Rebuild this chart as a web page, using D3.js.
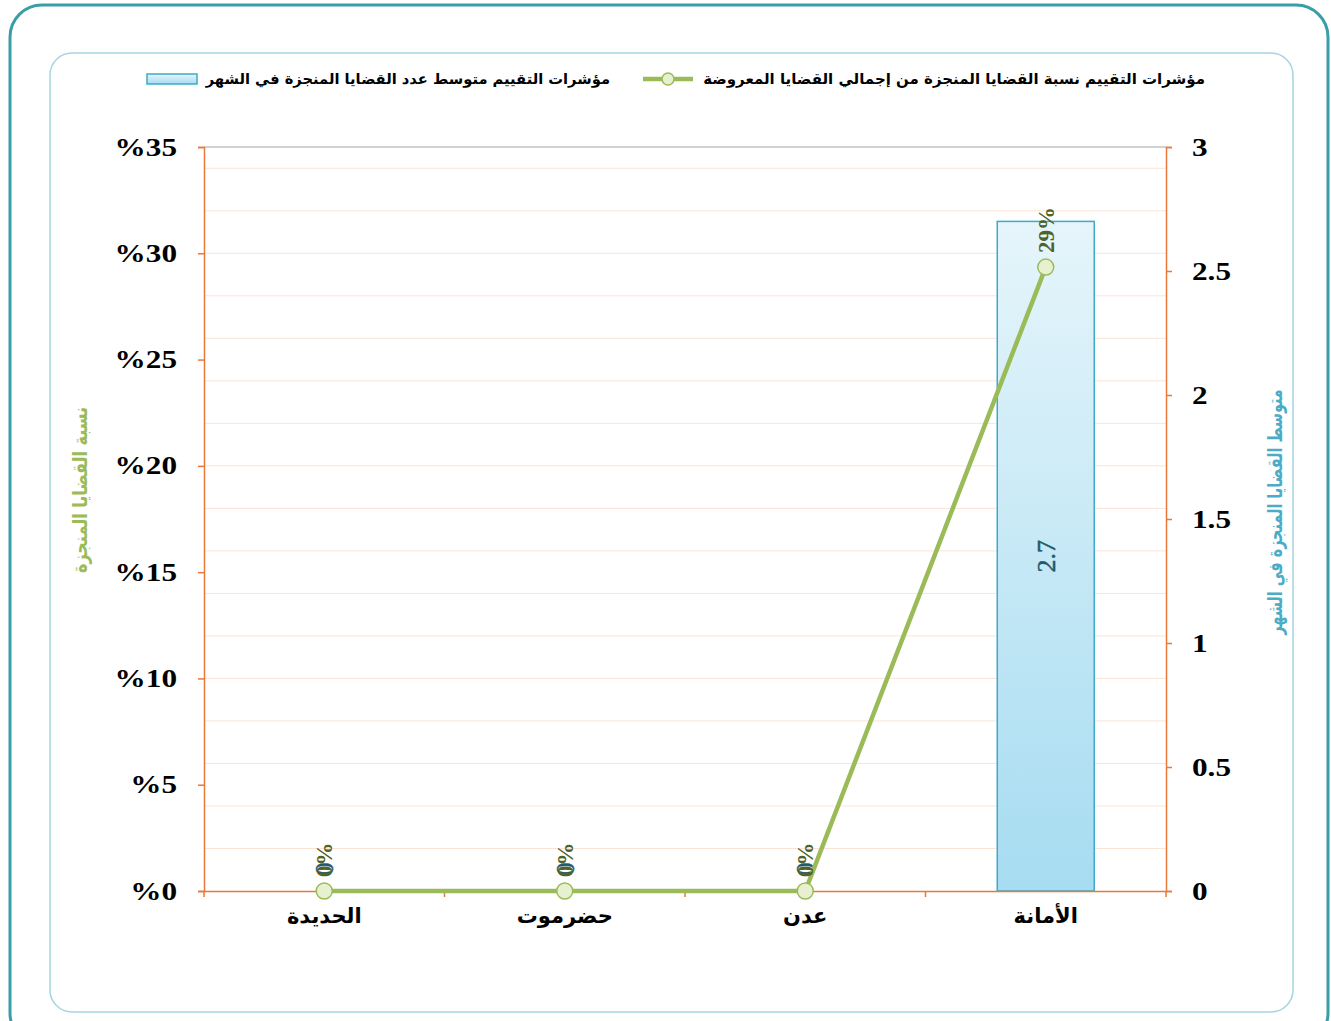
<!DOCTYPE html>
<html><head><meta charset="utf-8">
<script src="https://cdn.jsdelivr.net/npm/d3@7"></script>
<style>html,body{margin:0;padding:0;background:#fff;}</style>
</head><body>
<svg id="chart" width="1331" height="1021"></svg>
<script>
const categories = ["الحديدة", "حضرموت", "عدن", "الأمانة"];
const avgCases = [0, 0, 0, 2.7];
const ratioPct = [0, 0, 0, 29.35];
const ratioLabels = ["0%", "0%", "0%", "29%"];
const avgLabels = ["0", "0", "0", "2.7"];
const leftTicks = [0, 5, 10, 15, 20, 25, 30, 35];
const rightTicks = [0, 0.5, 1, 1.5, 2, 2.5, 3];
const gridVals = [2, 4, 6, 8, 10, 12, 14, 16, 18, 20, 22, 24, 26, 28, 30, 32, 34];
const legendLine = "مؤشرات التقييم نسبة القضايا المنجزة من إجمالي القضايا المعروضة";
const legendBar = "مؤشرات التقييم متوسط عدد القضايا المنجزة في الشهر";
const leftTitle = "نسبة القضايا المنجزة";
const rightTitle = "متوسط القضايا المنجزة في الشهر";

const svg = d3.select("#chart");
const arabic = "'DejaVu Sans', 'Noto Sans', sans-serif";
const serif = "'Liberation Serif', 'DejaVu Serif', serif";

// frames
svg.append("rect").attr("x", 10).attr("y", 5).attr("width", 1318).attr("height", 1040)
  .attr("rx", 32).attr("fill", "none").attr("stroke", "#3a9ea7").attr("stroke-width", 3);
svg.append("rect").attr("x", 50).attr("y", 53).attr("width", 1243).attr("height", 959)
  .attr("rx", 22).attr("fill", "none").attr("stroke", "#a6d5e1").attr("stroke-width", 1.5);

const L = 204, R = 1166, T = 147, B = 891;
const xc = d3.scaleBand().domain(categories).range([L, R]);
const yL = d3.scaleLinear().domain([0, 35]).range([B, T]);
const yR = d3.scaleLinear().domain([0, 3]).range([B, T]);

// gridlines
svg.append("g").selectAll("line").data(gridVals).join("line")
  .attr("x1", L).attr("x2", R).attr("y1", d => yL(d)).attr("y2", d => yL(d))
  .attr("stroke", "#fbe4d5").attr("stroke-width", 1);
svg.append("line").attr("x1", L).attr("x2", R).attr("y1", T).attr("y2", T)
  .attr("stroke", "#a6a6a6").attr("stroke-width", 1.2);

// gradient
const defs = svg.append("defs");
const g = defs.append("linearGradient").attr("id", "barGrad").attr("x1", 0).attr("y1", 0).attr("x2", 0).attr("y2", 1);
g.append("stop").attr("offset", "0%").attr("stop-color", "#e6f5fb");
g.append("stop").attr("offset", "100%").attr("stop-color", "#a6dcf1");

// bars
const bw = 97;
svg.append("g").selectAll("rect").data(avgCases).join("rect")
  .attr("x", (d, i) => xc(categories[i]) + xc.bandwidth() / 2 - bw / 2)
  .attr("width", bw)
  .attr("y", d => yR(d)).attr("height", d => B - yR(d))
  .attr("fill", "url(#barGrad)").attr("stroke", "#3eaac8").attr("stroke-width", 1.5);

const sx = 1.25;
// axes
const axL = svg.append("g").attr("transform", `translate(${L},0)`)
  .call(d3.axisLeft(yL).tickValues(leftTicks).tickSize(6).tickFormat(d => "%" + d));
axL.select(".domain").attr("stroke", "#e8793a").attr("stroke-width", 1.5);
axL.selectAll(".tick line").attr("stroke", "#e8793a").attr("stroke-width", 1.5);
axL.selectAll(".tick text").attr("x", -27 / sx).attr("transform", `scale(${sx},1)`)
  .attr("font-family", serif).attr("font-weight", "bold")
  .attr("font-size", 25).attr("fill", "#000");

const axR = svg.append("g").attr("transform", `translate(${R},0)`)
  .call(d3.axisRight(yR).tickValues(rightTicks).tickSize(6).tickFormat(d => String(d)));
axR.select(".domain").attr("stroke", "#e8793a").attr("stroke-width", 1.5);
axR.selectAll(".tick line").attr("stroke", "#e8793a").attr("stroke-width", 1.5);
axR.selectAll(".tick text").attr("x", 26 / sx).attr("transform", `scale(${sx},1)`)
  .attr("font-family", serif).attr("font-weight", "bold")
  .attr("font-size", 25).attr("fill", "#000");

const axB = svg.append("g").attr("transform", `translate(0,${B})`)
  .call(d3.axisBottom(xc).tickSize(0).tickFormat(d => d));
axB.select(".domain").attr("stroke", "#e8793a").attr("stroke-width", 1.5);
axB.selectAll(".tick text").attr("y", 17).attr("font-family", arabic).attr("font-weight", "bold")
  .attr("font-size", 21).attr("fill", "#000");
// category boundary ticks
svg.append("g").selectAll("line").data(categories).join("line")
  .attr("x1", d => xc(d)).attr("x2", d => xc(d)).attr("y1", B).attr("y2", B + 6)
  .attr("stroke", "#e8793a").attr("stroke-width", 1.5);
svg.append("line").attr("x1", R).attr("x2", R).attr("y1", B).attr("y2", B + 6)
  .attr("stroke", "#e8793a").attr("stroke-width", 1.5);

// bar labels
svg.append("g").selectAll("text").data(avgCases).join("text")
  .attr("transform", (d, i) => {
    const cx = xc(categories[i]) + xc.bandwidth() / 2;
    const cy = d > 0 ? (yR(d) + B) / 2 : B - 22;
    return `translate(${cx + 9},${cy}) rotate(-90)`;
  })
  .attr("text-anchor", "middle").attr("font-family", serif).attr("font-size", 26)
  .attr("stroke", "#1f5a6e").attr("stroke-width", 0.5)
  .attr("fill", "#1f5a6e").text((d, i) => avgLabels[i]);

// line
const pts = ratioPct.map((v, i) => [xc(categories[i]) + xc.bandwidth() / 2, yL(v)]);
svg.append("path").datum(pts).attr("d", d3.line()).attr("fill", "none")
  .attr("stroke", "#9bbb59").attr("stroke-width", 4.5);
svg.append("g").selectAll("circle").data(pts).join("circle")
  .attr("cx", d => d[0]).attr("cy", d => d[1]).attr("r", 8)
  .attr("fill", "#e8f1cf").attr("stroke", "#9bbb59").attr("stroke-width", 1.5);

// line labels
svg.append("g").selectAll("text").data(ratioPct).join("text")
  .attr("transform", (d, i) => `translate(${pts[i][0] + 8},${pts[i][1] - 14}) rotate(-90)`)
  .attr("text-anchor", "start").attr("font-family", serif).attr("font-weight", "bold").attr("font-size", 23)
  .attr("fill", "#4f6228").text((d, i) => ratioLabels[i]);

// axis titles
svg.append("text").attr("transform", "translate(87,490) rotate(-90) scale(0.8,1)")
  .attr("text-anchor", "middle").attr("font-family", arabic).attr("font-weight", "bold")
  .attr("font-size", 20).attr("fill", "#9bbb59").text(leftTitle);
svg.append("text").attr("transform", "translate(1282,512) rotate(-90) scale(0.72,1)")
  .attr("text-anchor", "middle").attr("font-family", arabic).attr("font-weight", "bold")
  .attr("font-size", 20).attr("fill", "#4bacc6").text(rightTitle);

// legend
const lg = svg.append("g");
lg.append("line").attr("x1", 643).attr("x2", 693).attr("y1", 79).attr("y2", 79)
  .attr("stroke", "#9bbb59").attr("stroke-width", 4.5);
lg.append("circle").attr("cx", 668).attr("cy", 79).attr("r", 6)
  .attr("fill", "#e8f1cf").attr("stroke", "#9bbb59").attr("stroke-width", 1.5);
lg.append("text").attr("x", 1205).attr("y", 84).attr("text-anchor", "end")
  .attr("font-family", arabic).attr("font-weight", "bold").attr("font-size", 15).attr("fill", "#000").text(legendLine);
lg.append("rect").attr("x", 147).attr("y", 74).attr("width", 50).attr("height", 10)
  .attr("fill", "url(#barGrad)").attr("stroke", "#3eaac8").attr("stroke-width", 1.5);
lg.append("text").attr("x", 610).attr("y", 84).attr("text-anchor", "end")
  .attr("font-family", arabic).attr("font-weight", "bold").attr("font-size", 14.7).attr("fill", "#000").text(legendBar);
</script>
</body></html>
